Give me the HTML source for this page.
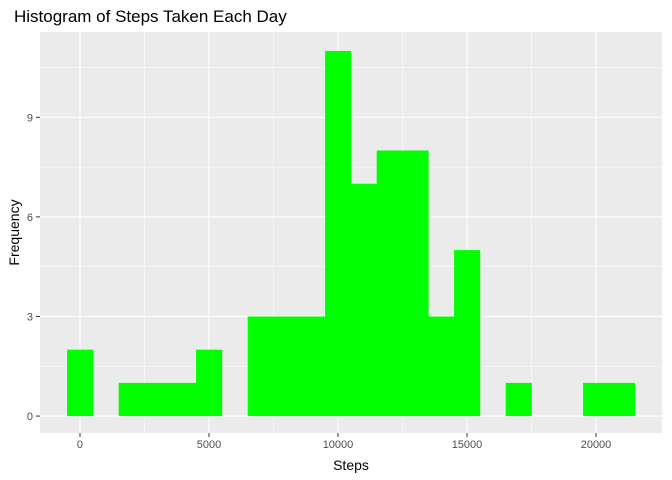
<!DOCTYPE html>
<html><head><meta charset="utf-8"><style>body{margin:0;background:#fff}svg{display:block;font-family:"Liberation Sans",sans-serif}</style></head>
<body>
<svg id="c" width="672" height="480"></svg>
<script>
const binCenters=[0,1000,2000,3000,4000,5000,6000,7000,8000,9000,10000,11000,12000,13000,14000,15000,16000,17000,18000,19000,20000,21000];
const counts=[2,0,1,1,1,2,0,3,3,3,11,7,8,8,3,5,0,1,0,0,1,1];
const xTicks=[0,5000,10000,15000,20000];
const yTicks=[0,3,6,9];
const binWidth=1000;
const NS='http://www.w3.org/2000/svg';
const svg=document.getElementById('c');
const L=40,R=662,T=32,B=433;
const xMin=-1550,xMax=22558,yMin=-0.51,yMax=11.57;
const X=v=>L+(v-xMin)/(xMax-xMin)*(R-L);
const Y=v=>B-(v-yMin)/(yMax-yMin)*(B-T);
function el(tag,attrs,name){const e=document.createElementNS(NS,tag);for(const k in attrs)e.setAttribute(k,attrs[k]);


svg.appendChild(e);return e;}
el('rect',{x:L,y:T,width:R-L,height:B-T,fill:'#EBEBEB'},'plot-panel');
for(let i=0;i<xTicks.length-1;i++){const m=(xTicks[i]+xTicks[i+1])/2;el('line',{x1:X(m),x2:X(m),y1:T,y2:B,stroke:'#fff','stroke-width':0.5},'x-minor-grid');}
for(let i=0;i<yTicks.length;i++){const m=yTicks[i]+1.5;el('line',{x1:L,x2:R,y1:Y(m),y2:Y(m),stroke:'#fff','stroke-width':0.5},'y-minor-grid');}
xTicks.forEach(t=>{el('line',{x1:X(t),x2:X(t),y1:T,y2:B,stroke:'#fff','stroke-width':1.1},'x-major-grid');
el('line',{x1:X(t),x2:X(t),y1:B,y2:B+4,stroke:'#333','stroke-width':1},'x-tick');
const tx=el('text',{x:X(t),y:B+15,'text-anchor':'middle','font-size':11,fill:'#4D4D4D'},'x-tick-label');tx.textContent=t;});
yTicks.forEach(t=>{el('line',{x1:L,x2:R,y1:Y(t),y2:Y(t),stroke:'#fff','stroke-width':1.1},'y-major-grid');
el('line',{x1:L-4,x2:L,y1:Y(t),y2:Y(t),stroke:'#333','stroke-width':1},'y-tick');
const tx=el('text',{x:L-7,y:Y(t)+4,'text-anchor':'end','font-size':11,fill:'#4D4D4D'},'y-tick-label');tx.textContent=t;});
binCenters.forEach((c,i)=>{if(!counts[i])return;const x0=X(c-binWidth/2),x1=X(c+binWidth/2);
el('rect',{x:x0,y:Y(counts[i]),width:x1-x0+0.3,height:Y(0)-Y(counts[i]),fill:'#00FF00'},'histogram-bar');});
let t=el('text',{x:14,y:22,'font-size':17,fill:'#000'},'chart-title');t.textContent='Histogram of Steps Taken Each Day';
t=el('text',{x:(L+R)/2,y:470,'text-anchor':'middle','font-size':14,fill:'#000'},'x-axis-title');t.textContent='Steps';
t=el('text',{x:19,y:(T+B)/2,'text-anchor':'middle','font-size':14,fill:'#000',transform:`rotate(-90 19 ${(T+B)/2})`},'y-axis-title');t.textContent='Frequency';
</script>
</body></html>
